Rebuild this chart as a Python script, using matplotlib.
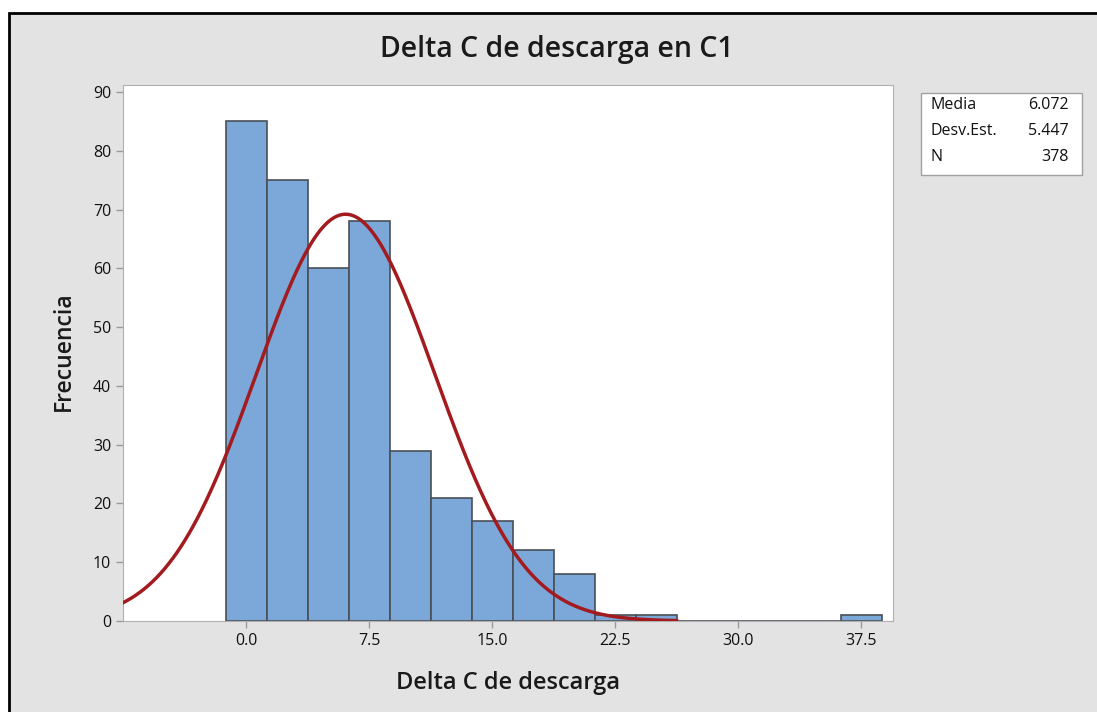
import numpy as np
import matplotlib
matplotlib.use("Agg")
import matplotlib.pyplot as plt
from matplotlib.patches import Rectangle

plt.rcParams['font.family'] = ['Open Sans', 'DejaVu Sans']

# datos del histograma (ancho de clase 2.5)
centros = [0.0, 2.5, 5.0, 7.5, 10.0, 12.5, 15.0, 17.5, 20.0, 22.5, 25.0,
           27.5, 30.0, 32.5, 35.0, 37.5]
frecuencias = [85, 75, 60, 68, 29, 21, 17, 12, 8, 1, 1, 0, 0, 0, 0, 1]
ancho = 2.5

media = 6.072
desv = 5.447
n = 378

xticks = [0.0, 7.5, 15.0, 22.5, 30.0, 37.5]
yticks = [0, 10, 20, 30, 40, 50, 60, 70, 80, 90]

fig = plt.figure(figsize=(10.97, 7.12), dpi=100)
fig.patch.set_facecolor('white')
fig.patches.append(Rectangle((9 / 1097, -0.05), 1.2, 1 - 13 / 712 + 0.05,
                             transform=fig.transFigure, facecolor='#e3e3e3',
                             edgecolor='black', linewidth=2, zorder=-1))

ax = fig.add_axes([123 / 1097, 1 - 621 / 712, (893 - 123) / 1097, (621 - 85) / 712])
ax.set_facecolor('white')

ax.bar(centros, frecuencias, width=ancho, color='#7ba7d9', edgecolor='#4a4f57',
       linewidth=1.2, zorder=2)

# curva normal ajustada
xs = np.linspace(-7.5, 26.25, 400)
ys = n * ancho * np.exp(-0.5 * ((xs - media) / desv) ** 2) / (desv * np.sqrt(2 * np.pi))
ax.plot(xs, ys, color='#a31b1f', linewidth=2.5, zorder=3)

ax.set_xlim(-7.5, 39.45)
ax.set_ylim(0, 91.2)
ax.set_xticks(xticks)
ax.set_xticklabels([f'{t:.1f}' for t in xticks])
ax.set_yticks(yticks)
ax.tick_params(axis='both', colors='#9a9a9a', labelcolor='#111111', labelsize=11.5,
               length=5, width=1)
for s in ax.spines.values():
    s.set_color('#b0b0b0')

fig.text(557 / 1097, 1 - 50 / 712, 'Delta C de descarga en C1', ha='center', va='center',
         fontsize=20.5, fontweight='semibold', color='#1a1a1a')
fig.text(508 / 1097, 1 - 683 / 712, 'Delta C de descarga', ha='center', va='center',
         fontsize=17, fontweight='semibold', color='#1a1a1a')
fig.text(64 / 1097, 1 - 351 / 712, 'Frecuencia', ha='center', va='center',
         fontsize=16.5, fontweight='semibold', rotation=90, color='#1a1a1a')

# cuadro de estadísticos
fig.patches.append(Rectangle((921 / 1097, 1 - 175 / 712), (1082 - 921) / 1097, 82 / 712,
                             transform=fig.transFigure, facecolor='white',
                             edgecolor='#a0a0a0', linewidth=1))
filas = [('Media', f'{media:.3f}'), ('Desv.Est.', f'{desv:.3f}'), ('N', f'{n}')]
for i, (etq, val) in enumerate(filas):
    y = 1 - (105 + i * 26) / 712
    fig.text(931 / 1097, y, etq, ha='left', va='center', fontsize=11.5, color='#111111')
    fig.text(1069 / 1097, y, val, ha='right', va='center', fontsize=11.5, color='#111111')

fig.savefig('out.png', dpi=100)
